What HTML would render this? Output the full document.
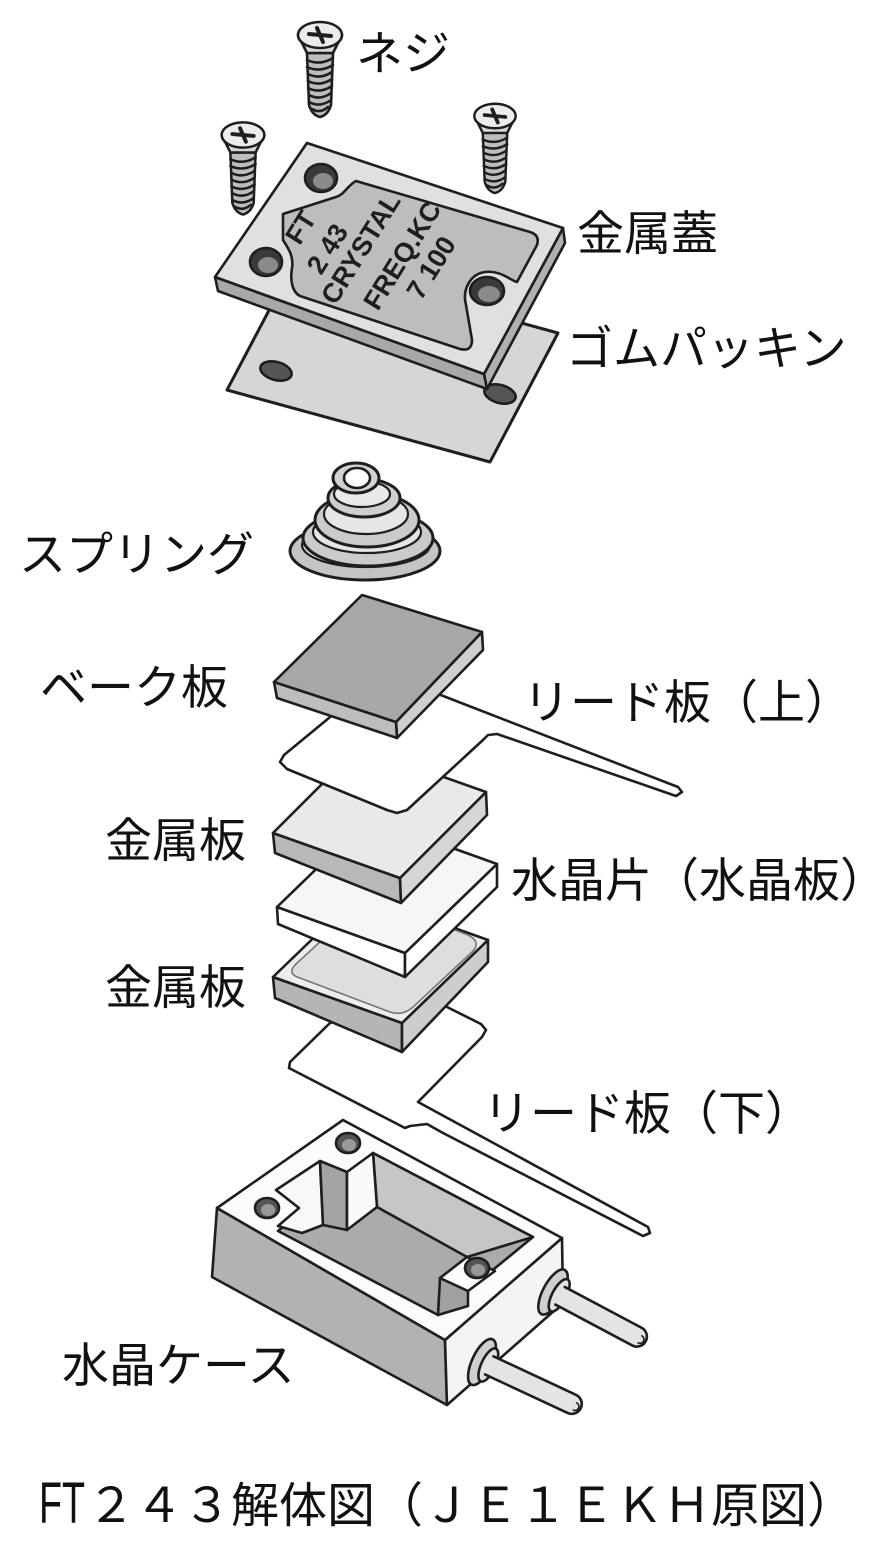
<!DOCTYPE html>
<html><head><meta charset="utf-8">
<style>
html,body{margin:0;padding:0;background:#fff;}
svg{display:block;}
.lb{font-family:"Liberation Sans","Noto Sans CJK JP",sans-serif;font-size:47px;fill:#111;}
</style></head><body>
<svg width="889" height="1546" viewBox="0 0 889 1546" xmlns="http://www.w3.org/2000/svg">
<defs>
<g id="screw">
 <path d="M-13,18 L-11,70 Q-8,80 0,82 Q8,80 11,70 L13,18 Z" fill="#bdbdbd"/>
 <path d="M-13,25 Q0,31 13,23 M-13,32 Q0,38 13,30 M-12,39 Q0,45 12,37 M-12,46 Q0,52 12,44 M-12,53 Q0,59 12,51 M-11,60 Q0,66 11,58 M-11,67 Q0,73 11,65 M-8,74 Q0,79 8,72" fill="none" stroke-width="2.6"/>
 <path d="M-22,0 L-13,18 L13,18 L22,0 Z" fill="#d6d6d6"/>
 <ellipse rx="22" ry="13" fill="#ececec"/>
 <path d="M-11,-1 L11,1 M-3,-7 L3,7" stroke-width="4"/>
</g>
</defs>
<rect width="889" height="1546" fill="#fff"/>

<g stroke="#1e1e1e" stroke-width="2.6" stroke-linejoin="round" stroke-linecap="round">

<!-- ===== CASE ===== -->
<polygon points="217,1208 445,1340 447,1405 212,1277" fill="#b2b2b2"/>
<polygon points="445,1340 562,1238 563,1303 447,1405" fill="#f4f4f4"/>
<polygon points="343,1120 562,1238 445,1340 217,1208" fill="#fcfcfc"/>
<!-- cavity floor -->
<polygon points="278,1231 373,1153 533,1237 438,1315" fill="#ababab"/>
<!-- back wall -->
<polygon points="373,1153 533,1237 467,1257 377,1207" fill="#c6c6c6"/>
<!-- left wall / notch step -->
<polygon points="276,1190 320,1161 323,1225 302,1233 278,1226 299,1208" fill="#f8f8f8"/>
<!-- post -->
<polygon points="320,1161 347,1172 347,1230 323,1225" fill="#a4a4a4"/>
<polygon points="347,1172 373,1153 377,1207 347,1230" fill="#fafafa"/>
<!-- right notch block -->
<polygon points="440,1278 468,1291 468,1306 438,1315" fill="#a0a0a0"/>
<polygon points="467,1257 495,1271 468,1291 440,1278" fill="#fcfcfc"/>
<ellipse cx="348" cy="1143" rx="12" ry="10" fill="#555"/>
<ellipse cx="349" cy="1145" rx="7" ry="6" fill="#999" stroke="none"/>
<ellipse cx="267" cy="1208" rx="12" ry="10" fill="#555"/>
<ellipse cx="268" cy="1210" rx="7" ry="6" fill="#999" stroke="none"/>
<ellipse cx="477" cy="1268" rx="12" ry="10" fill="#555"/>
<ellipse cx="478" cy="1270" rx="7" ry="6" fill="#999" stroke="none"/>

<!-- pins -->
<g transform="translate(553,1292) rotate(28)">
 <ellipse cx="0" cy="0" rx="10" ry="25" fill="#cfcfcf"/>
 <ellipse cx="7" cy="0" rx="7" ry="18" fill="#e2e2e2"/>
 <path d="M8,-10 L95,-10 A10,10 0 0 1 95,10 L8,10" fill="#e4e4e4"/>
 <path d="M99,-3 A4,4 0 0 1 99,5" fill="none" stroke-width="1.6"/>
</g>
<g transform="translate(482,1362) rotate(25)">
 <ellipse cx="0" cy="0" rx="10" ry="25" fill="#cfcfcf"/>
 <ellipse cx="7" cy="0" rx="7" ry="18" fill="#e2e2e2"/>
 <path d="M8,-10 L99,-10 A10,10 0 0 1 99,10 L8,10" fill="#e4e4e4"/>
 <path d="M103,-3 A4,4 0 0 1 103,5" fill="none" stroke-width="1.6"/>
</g>

<!-- ===== LOWER LEAD PLATE ===== -->
<polygon points="400,995 330,1023 290,1062 289,1068 405,1128 410,1126 427,1124 443,1133 643,1236 650,1233 648,1227 418,1102 482,1037 486,1030 481,1024 447,1007" fill="#fff"/>

<!-- ===== METAL PLATE 2 ===== -->
<polygon points="273,977 402,1023 402,1052 275,998" fill="#b5b5b5"/>
<polygon points="402,1023 488,940 488,962 402,1052" fill="#cdcdcd"/>
<polygon points="359,894 488,940 402,1023 273,977" fill="#ededed"/>
<path d="M300,978 Q286,974 296,964 L360,905 Q370,898 382,902 L468,935 Q482,942 472,952 L412,1008 Q402,1016 390,1012 Z" fill="#dedede" stroke="#777" stroke-width="1.6"/>

<!-- ===== CRYSTAL ===== -->
<polygon points="277,907 405,953 405,977 278,924" fill="#fff"/>
<polygon points="405,953 497,864 497,887 405,977" fill="#fff"/>
<polygon points="369,818 497,864 405,953 277,907" fill="#f6f6f6"/>

<!-- ===== METAL PLATE 1 ===== -->
<polygon points="273,833 400,878 401,903 275,853" fill="#b8b8b8"/>
<polygon points="400,878 486,792 487,815 401,903" fill="#d6d6d6"/>
<polygon points="359,747 486,792 400,878 273,833" fill="#e9e9e9"/>

<!-- ===== UPPER LEAD PLATE ===== -->
<polygon points="369,685 420,687 678,787 682,792 676,796 497,734 488,735 483,740 407,810 397,813 387,810 287,769 280,762 284,755" fill="#fff"/>

<!-- ===== BAKE PLATE ===== -->
<polygon points="396,722 482,632 483,650 397,738" fill="#cfcfcf"/>
<polygon points="274,682 396,722 397,738 277,698" fill="#bdbdbd"/>
<polygon points="362,595 482,632 396,722 274,682" fill="#a8a8a8"/>

<!-- ===== SPRING ===== -->
<ellipse cx="365" cy="551" rx="75" ry="29" fill="#c4c4c4" stroke-width="3"/>
<ellipse cx="366" cy="545" rx="64" ry="22" fill="#e4e4e4" stroke-width="2.2"/>
<ellipse cx="368" cy="538" rx="65" ry="28" fill="#cbcbcb" stroke-width="3"/>
<ellipse cx="367" cy="532" rx="54" ry="21" fill="#e6e6e6" stroke-width="2.2"/>
<ellipse cx="367" cy="520" rx="52" ry="27" fill="#cbcbcb" stroke-width="3"/>
<ellipse cx="366" cy="514" rx="42" ry="20" fill="#e6e6e6" stroke-width="2.2"/>
<ellipse cx="364" cy="498" rx="36" ry="19" fill="#cfcfcf" stroke-width="3"/>
<ellipse cx="362" cy="494" rx="28" ry="13" fill="#e9e9e9" stroke-width="2.2"/>
<ellipse cx="356" cy="478" rx="23" ry="15" fill="#d2d2d2" stroke-width="3"/>
<ellipse cx="357" cy="478" rx="13" ry="10" fill="#fff"/>

<!-- ===== GASKET ===== -->
<polygon points="295,261 558,333 490,462 227,390" fill="#d6d6d6" stroke-width="3"/>
<ellipse cx="276" cy="371" rx="16" ry="9" transform="rotate(15 276 371)" fill="#555"/>
<ellipse cx="500" cy="394" rx="16" ry="9" transform="rotate(15 500 394)" fill="#555"/>

<!-- ===== METAL LID ===== -->
<polygon points="484,374 563,228 565,243 487,389" fill="#b0b0b0"/>
<polygon points="215,277 484,374 487,389 218,291" fill="#a8a8a8"/>
<polygon points="307,143 563,228 484,374 215,277" fill="#e0e0e0"/>
<path d="M283,214 L336,197 C344,195 348,185 356,181 L530,232 Q540,235 537,245 L517,282 C510,280 500,270 485,272 C470,274 462,290 466,305 L472,340 Q472,352 460,349 L300,296 C292,292 290,280 292,268 C294,256 288,248 283,240 Z" fill="#bdbdbd"/>
<ellipse cx="321" cy="178" rx="16" ry="14" fill="#3a3a3a"/>
<ellipse cx="323" cy="181" rx="10" ry="8" fill="#8a8a8a" stroke="none"/>
<ellipse cx="266" cy="262" rx="16" ry="14" fill="#3a3a3a"/>
<ellipse cx="268" cy="265" rx="10" ry="8" fill="#8a8a8a" stroke="none"/>
<ellipse cx="487" cy="291" rx="17" ry="14" fill="#3a3a3a"/>
<ellipse cx="489" cy="294" rx="11" ry="8" fill="#8a8a8a" stroke="none"/>

<!-- ===== SCREWS ===== -->
<use href="#screw" transform="translate(320,35)"/>
<use href="#screw" transform="translate(243,135) scale(0.97)"/>
<use href="#screw" transform="translate(495,116) scale(0.94)"/>
</g>

<!-- lid engraved text -->
<g transform="translate(360,248) rotate(-58)" font-family="Liberation Sans, sans-serif" font-size="27" font-weight="bold" fill="#1e1e1e" text-anchor="middle">
 <text x="-14" y="-52">FT</text>
 <text x="-18" y="-18">2 43</text>
 <text x="0" y="10">CRYSTAL</text>
 <text x="16" y="49">FREQ.KC</text>
 <text x="21" y="80">7 100</text>
</g>

<!-- ===== LABELS ===== -->
<text class="lb" x="356" y="70">ネジ</text>
<text class="lb" x="577" y="250">金属蓋</text>
<text class="lb" x="566" y="365">ゴムパッキン</text>
<text class="lb" x="19" y="571">スプリング</text>
<text class="lb" x="40" y="704">ベーク板</text>
<text class="lb" x="523" y="719">リード板（上）</text>
<text class="lb" x="105" y="857">金属板</text>
<text class="lb" x="511" y="897">水晶片（水晶板）</text>
<text class="lb" x="105" y="1004">金属板</text>
<text class="lb" x="483" y="1130">リード板（下）</text>
<text class="lb" x="62" y="1382">水晶ケース</text>
<text x="39" y="1523" font-family="Liberation Sans, sans-serif" font-size="58" fill="#111" textLength="46" lengthAdjust="spacingAndGlyphs">FT</text>
<text class="lb" x="87" y="1522" style="font-size:48px">２４３解体図（ＪＥ１ＥＫＨ原図）</text>
</svg>
</body></html>
